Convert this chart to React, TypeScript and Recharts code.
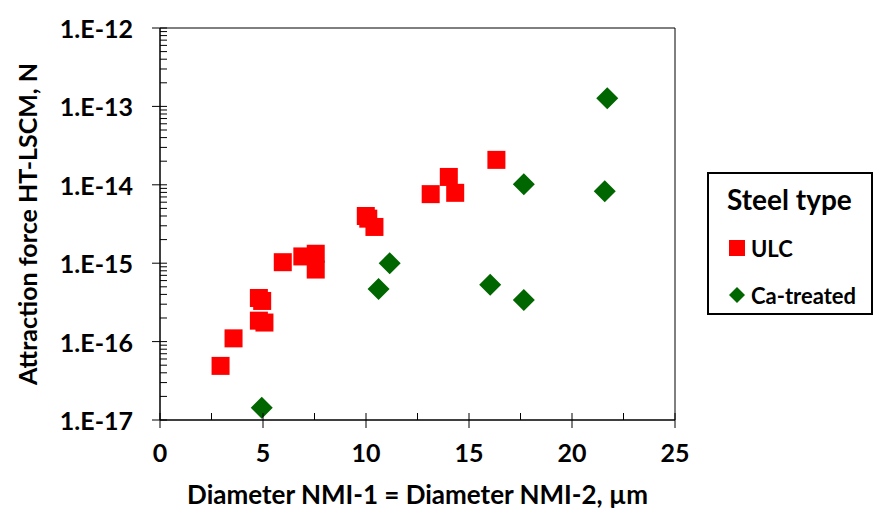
import React from 'react';
import { ScatterChart, Scatter, XAxis, YAxis, ReferenceArea, Legend } from 'recharts';

// ULC steel: diameter (µm) and attraction force (N)
const ulcDiameter = [2.94, 3.57, 4.8, 4.96, 4.8, 5.07, 5.96, 6.91, 7.56, 7.56, 9.99, 10.11, 10.41, 13.14, 14.02, 14.33, 16.33];
const ulcForce = [4.9e-17, 1.1e-16, 3.6e-16, 3.3e-16, 1.85e-16, 1.75e-16, 1.03e-15, 1.22e-15, 1.32e-15, 8.3e-16, 4.0e-15, 3.7e-15, 2.9e-15, 7.6e-15, 1.26e-14, 7.9e-15, 2.08e-14];

// Ca-treated steel
const caDiameter = [4.94, 10.61, 11.15, 16.03, 17.66, 17.66, 21.59, 21.71];
const caForce = [1.43e-17, 4.7e-16, 1.0e-15, 5.3e-16, 3.4e-16, 1.02e-14, 8.3e-15, 1.27e-13];

const seriesNames = ['ULC', 'Ca-treated'];
const xTicks = [0, 2.5, 5, 7.5, 10, 12.5, 15, 17.5, 20, 22.5, 25];
const xMajor = [0, 5, 10, 15, 20, 25];
const yMajor = [1e-17, 1e-16, 1e-15, 1e-14, 1e-13, 1e-12];
const yTicks: number[] = [];
yMajor.forEach((d, i) => {
  yTicks.push(d);
  if (i < yMajor.length - 1) for (let m = 2; m <= 9; m++) yTicks.push(m * d);
});

const ulc = ulcDiameter.map((x, i) => ({ x, y: ulcForce[i] }));
const ca = caDiameter.map((x, i) => ({ x, y: caForce[i] }));

const FONT = 'Lato, "Open Sans", sans-serif';
const INK = '#000';
const RED = '#ff0000';
const GREEN = '#006600';
const Y_TICK_SIZE = 8;
const Y_TICK_MARGIN = 19;
const X_TICK_SIZE = 8;
const X_TICK_MARGIN = 14;

const isMajorY = (v: number) => Math.abs(Math.log10(v) - Math.round(Math.log10(v))) < 1e-6;

const YTick = (props: any) => {
  const { x, y, payload } = props;
  const axisX = x + Y_TICK_SIZE + Y_TICK_MARGIN;
  const major = isMajorY(payload.value);
  const exp = Math.round(Math.log10(payload.value));
  return (
    <g>
      <line x1={major ? axisX - 8 : axisX} x2={axisX + 7} y1={y} y2={y} stroke={INK} />
      {major && (
        <text x={x} y={y} textAnchor="end" dominantBaseline="central" fontFamily={FONT} fontWeight="bold" fontSize={25} fill={INK}>
          {`1.E${exp}`}
        </text>
      )}
    </g>
  );
};

const XTick = (props: any) => {
  const { x, y, payload } = props;
  const axisY = y - X_TICK_SIZE - X_TICK_MARGIN;
  const major = xMajor.includes(payload.value);
  return (
    <g>
      <line x1={x} x2={x} y1={axisY - 7} y2={major ? axisY + 8 : axisY} stroke={INK} />
      {major && (
        <text x={x} y={y} textAnchor="middle" dominantBaseline="hanging" fontFamily={FONT} fontWeight="bold" fontSize={25} fill={INK}>
          {payload.value}
        </text>
      )}
    </g>
  );
};

const SquareShape = (props: any) => {
  const { cx, cy } = props;
  return <rect x={cx - 9} y={cy - 9} width={18} height={18} fill={RED} />;
};

const DiamondShape = (props: any) => {
  const { cx, cy } = props;
  const r = 11;
  return <polygon points={`${cx},${cy - r} ${cx + r},${cy} ${cx},${cy + r} ${cx - r},${cy}`} fill={GREEN} />;
};

const LegendBox = (props: any) => {
  const items = [...(props.payload || [])].sort(
    (a: any, b: any) => seriesNames.indexOf(a.value) - seriesNames.indexOf(b.value)
  );
  return (
    <svg width={166} height={143} style={{ display: 'block' }}>
      <rect x={1} y={1} width={164} height={141} fill="#fff" stroke="#000" strokeWidth={2} />
      <text x={20} y={38} fontFamily={FONT} fontWeight="bold" fontSize={28} fill={INK}>Steel type</text>
      {items.map((p: any, i: number) => {
        const cy = 76 + i * 47;
        return (
          <g key={p.value}>
            {p.type === 'diamond' ? (
              <polygon points={`30,${cy - 8} 38,${cy} 30,${cy + 8} 22,${cy}`} fill={p.color} />
            ) : (
              <rect x={22} y={cy - 8} width={16} height={16} fill={p.color} />
            )}
            <text x={44} y={cy} dominantBaseline="central" fontFamily={FONT} fontWeight="bold" fontSize={22} fill={INK}>{p.value}</text>
          </g>
        );
      })}
    </svg>
  );
};

export default function App() {
  return (
    <div style={{ position: 'absolute', left: 0, top: 0, background: '#fff' }}>
      <ScatterChart width={875} height={512} margin={{ top: 28, right: 200, bottom: 0, left: 0 }}>
        <XAxis
          type="number"
          dataKey="x"
          domain={[0, 25]}
          ticks={xTicks}
          interval={0}
          tickLine={false}
          tickSize={X_TICK_SIZE}
          tickMargin={X_TICK_MARGIN}
          tick={<XTick />}
          axisLine={{ stroke: INK }}
          height={92}
          label={{ value: 'Diameter NMI-1 = Diameter NMI-2, µm', position: 'insideBottom', offset: 8, fontFamily: FONT, fontWeight: 'bold', fontSize: 26, fill: INK }}
        />
        <YAxis
          type="number"
          dataKey="y"
          scale="log"
          domain={[1e-17, 1e-12]}
          allowDataOverflow
          ticks={yTicks}
          interval={0}
          tickLine={false}
          tickSize={Y_TICK_SIZE}
          tickMargin={Y_TICK_MARGIN}
          tick={<YTick />}
          axisLine={{ stroke: INK }}
          width={160}
          label={{ value: 'Attraction force HT-LSCM, N', angle: -90, position: 'insideLeft', offset: 28, style: { textAnchor: 'middle' }, fontFamily: FONT, fontWeight: 'bold', fontSize: 25, fill: INK }}
        />
        <ReferenceArea x1={0} x2={25} y1={1e-17} y2={1e-12} fill="none" stroke={INK} strokeWidth={1} />
        <Legend
          layout="vertical"
          align="center"
          verticalAlign="middle"
          wrapperStyle={{ left: 707, top: 172, width: 166 }}
          content={<LegendBox />}
        />
        <Scatter name="ULC" data={ulc} fill={RED} legendType="square" shape={<SquareShape />} isAnimationActive={false} />
        <Scatter name="Ca-treated" data={ca} fill={GREEN} legendType="diamond" shape={<DiamondShape />} isAnimationActive={false} />
      </ScatterChart>
    </div>
  );
}
